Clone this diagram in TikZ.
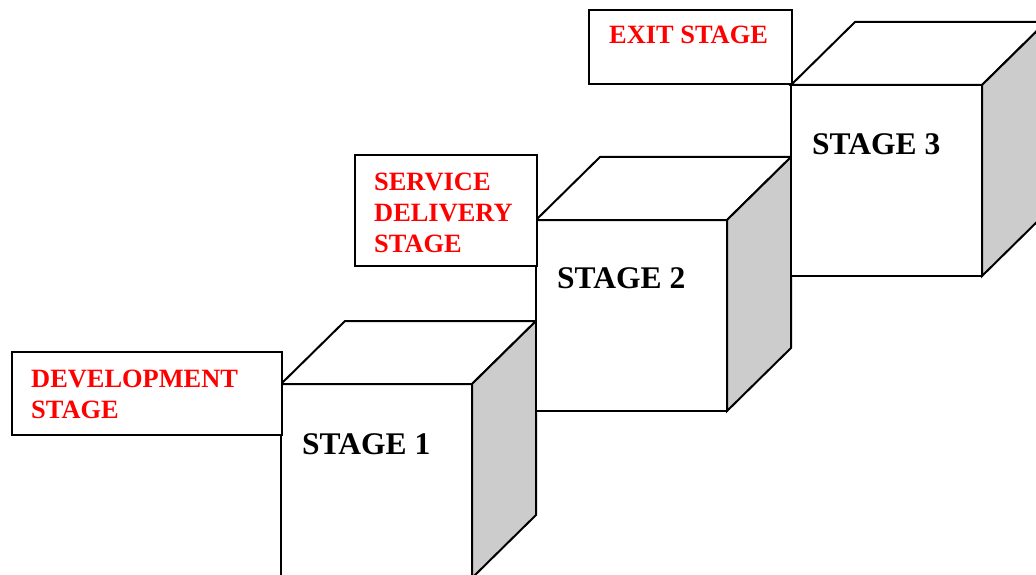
\documentclass[tikz,border=0pt]{standalone}
\usepackage{fontspec}
\setmainfont{Liberation Serif}
\definecolor{sidegray}{RGB}{204,204,204}
\definecolor{labelred}{RGB}{255,0,0}
\newcommand\stagecube[3]{%
  \draw[frontface] (#1,#2) rectangle ++(191,#3);
  \draw[frontface] (#1,#2) -- ++(64,-63) -- ++(191,0) -- ++(-64,63) -- cycle;
  \draw[sideface] (#1+191,#2) -- ++(64,-63) -- ++(0,#3) -- ++(-64,63) -- cycle;
}
\begin{document}
\begin{tikzpicture}[x=1pt,y=-1pt,
  edge/.style={draw=black,line width=2pt,line join=miter},
  frontface/.style={edge,fill=white},
  sideface/.style={edge,fill=sidegray},
  labelbox/.style={draw=black,line width=2pt,fill=white,inner sep=0pt,anchor=north west},
  redtext/.style={text=labelred,font=\fontsize{26.4}{30}\selectfont\bfseries,anchor=base west,inner sep=0pt},
  stagetext/.style={text=black,font=\fontsize{31.5}{36}\selectfont\bfseries,anchor=base west,inner sep=0pt}]
\useasboundingbox (0,0) rectangle (1036,575);
\clip (0,0) rectangle (1036,575);
\fill[white] (0,0) rectangle (1036,575);
% cubes
\stagecube{281}{384}{194}
\stagecube{536}{220}{191}
\stagecube{791}{85}{191}
% label boxes
\node[labelbox,minimum width=270pt,minimum height=83pt] (devbox) at (11,351) {};
\node[labelbox,minimum width=182pt,minimum height=111pt] (svcbox) at (354,154) {};
\node[labelbox,minimum width=203pt,minimum height=74pt] (exitbox) at (588,9) {};
% red labels
\node[redtext] (dev1) at (31,387) {DEVELOPMENT};
\node[redtext] (dev2) at (31,418) {STAGE};
\node[redtext] (svc1) at (374,190) {SERVICE};
\node[redtext] (svc2) at (374,221) {DELIVERY};
\node[redtext] (svc3) at (374,252) {STAGE};
\node[redtext] (exit1) at (609,44) {EXIT STAGE};
% stage labels
\node[stagetext] (st1) at (302,454) {STAGE 1};
\node[stagetext] (st2) at (557,288) {STAGE 2};
\node[stagetext] (st3) at (812,154) {STAGE 3};
\end{tikzpicture}
\end{document}
